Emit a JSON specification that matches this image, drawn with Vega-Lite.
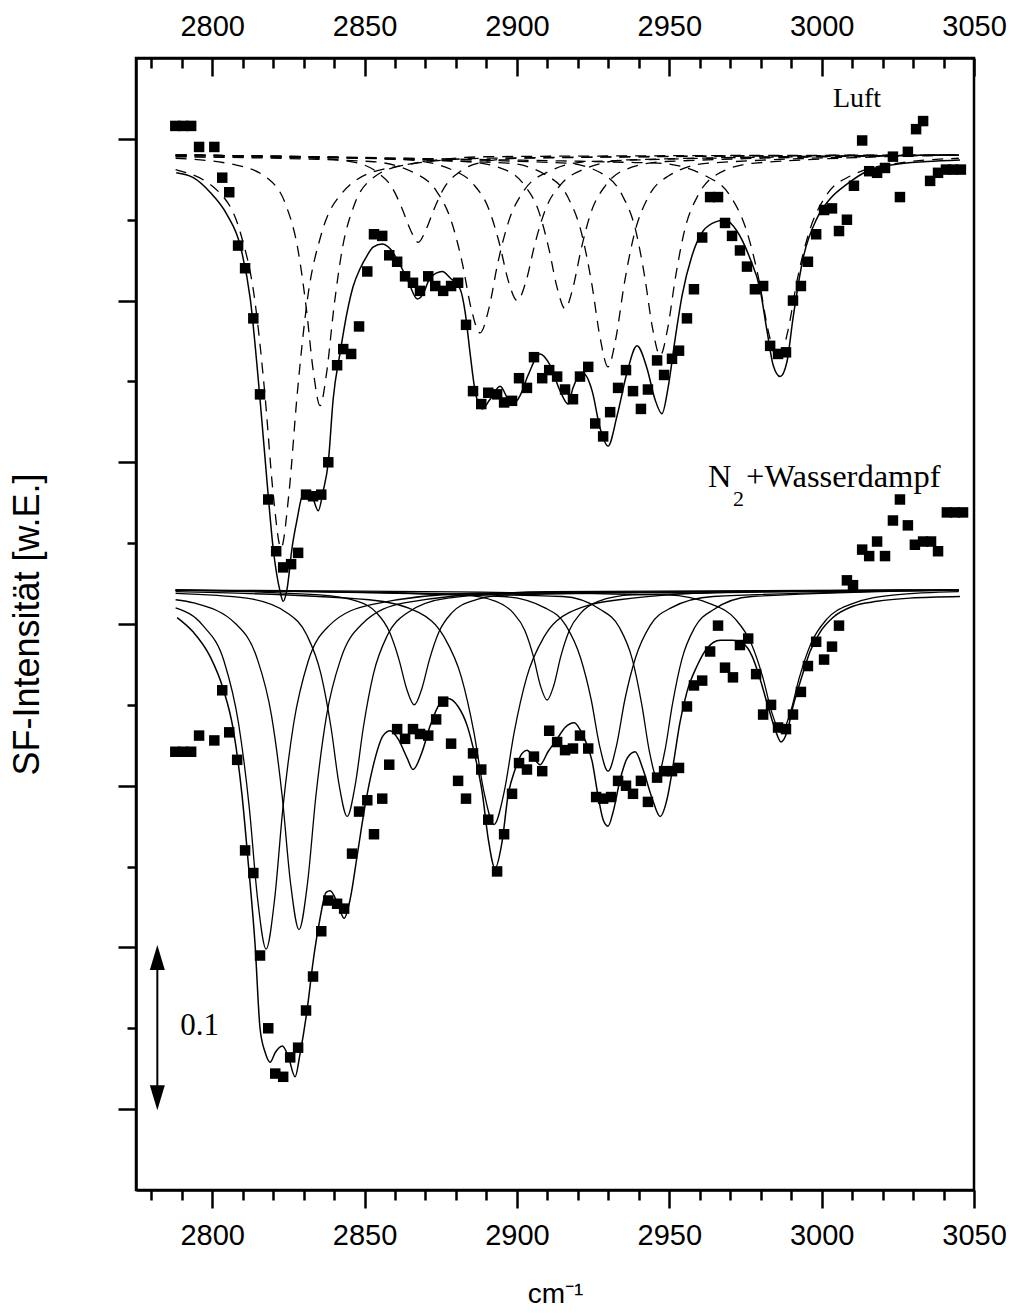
{
  "$schema": "https://vega.github.io/schema/vega-lite/v6.json",
  "width": 838,
  "height": 1132,
  "autosize": {"type": "none"},
  "padding": {"left": 136, "top": 58, "right": 36, "bottom": 123},
  "background": "white",
  "config": {
    "view": {"stroke": "black", "strokeWidth": 2.5},
    "axis": {"labelColor": "black", "tickColor": "black", "domainColor": "black", "titleColor": "black", "grid": false}
  },
  "datasets": {
    "notes": [
      {"label": "Luft", "x": 3003.7, "y": 0.620},
      {"label": "N", "x": 2962.7, "y": 0.385},
      {"label": "2", "x": 2970.9, "y": 0.373},
      {"label": "+Wasserdampf", "x": 2975.2, "y": 0.385},
      {"label": "0.1", "x": 2789.5, "y": 0.0458}
    ],
    "scalebar": [{"x": 2782.0, "y": 0.0938, "y2": 0.0071}],
    "pts": [
      {"set":"Luft","x":2787.9,"y":0.608},{"set":"Luft","x":2790.5,"y":0.608},{"set":"Luft","x":2793.1,"y":0.608},{"set":"Luft","x":2795.7,"y":0.595},{"set":"Luft","x":2800.7,"y":0.595},{"set":"Luft","x":2803.3,"y":0.576},{"set":"Luft","x":2805.6,"y":0.567},{"set":"Luft","x":2808.5,"y":0.534},{"set":"Luft","x":2810.8,"y":0.520},{"set":"Luft","x":2813.5,"y":0.489},{"set":"Luft","x":2815.7,"y":0.442},{"set":"Luft","x":2818.4,"y":0.377},{"set":"Luft","x":2821.0,"y":0.345},{"set":"Luft","x":2823.3,"y":0.335},{"set":"Luft","x":2825.9,"y":0.337},{"set":"Luft","x":2828.2,"y":0.344},{"set":"Luft","x":2830.8,"y":0.380},{"set":"Luft","x":2833.1,"y":0.379},{"set":"Luft","x":2835.8,"y":0.380},{"set":"Luft","x":2838.1,"y":0.400},{"set":"Luft","x":2841.0,"y":0.460},{"set":"Luft","x":2843.0,"y":0.470},{"set":"Luft","x":2845.6,"y":0.467},{"set":"Luft","x":2848.2,"y":0.484},{"set":"Luft","x":2850.9,"y":0.518},{"set":"Luft","x":2853.1,"y":0.541},{"set":"Luft","x":2855.8,"y":0.540},{"set":"Luft","x":2858.1,"y":0.528},{"set":"Luft","x":2860.7,"y":0.524},{"set":"Luft","x":2863.3,"y":0.515},{"set":"Luft","x":2865.9,"y":0.511},{"set":"Luft","x":2868.2,"y":0.506},{"set":"Luft","x":2870.9,"y":0.515},{"set":"Luft","x":2873.2,"y":0.509},{"set":"Luft","x":2875.8,"y":0.506},{"set":"Luft","x":2878.4,"y":0.509},{"set":"Luft","x":2880.7,"y":0.511},{"set":"Luft","x":2883.3,"y":0.485},{"set":"Luft","x":2885.6,"y":0.444},{"set":"Luft","x":2888.3,"y":0.436},{"set":"Luft","x":2890.6,"y":0.443},{"set":"Luft","x":2893.5,"y":0.442},{"set":"Luft","x":2895.8,"y":0.437},{"set":"Luft","x":2898.4,"y":0.438},{"set":"Luft","x":2900.7,"y":0.452},{"set":"Luft","x":2903.3,"y":0.446},{"set":"Luft","x":2905.6,"y":0.465},{"set":"Luft","x":2908.3,"y":0.452},{"set":"Luft","x":2910.6,"y":0.457},{"set":"Luft","x":2913.2,"y":0.453},{"set":"Luft","x":2915.8,"y":0.445},{"set":"Luft","x":2918.4,"y":0.439},{"set":"Luft","x":2920.7,"y":0.453},{"set":"Luft","x":2923.4,"y":0.459},{"set":"Luft","x":2925.7,"y":0.424},{"set":"Luft","x":2928.3,"y":0.416},{"set":"Luft","x":2930.6,"y":0.431},{"set":"Luft","x":2933.2,"y":0.446},{"set":"Luft","x":2935.8,"y":0.457},{"set":"Luft","x":2938.1,"y":0.444},{"set":"Luft","x":2940.7,"y":0.433},{"set":"Luft","x":2943.0,"y":0.445},{"set":"Luft","x":2946.0,"y":0.463},{"set":"Luft","x":2948.3,"y":0.454},{"set":"Luft","x":2950.9,"y":0.464},{"set":"Luft","x":2953.2,"y":0.469},{"set":"Luft","x":2955.8,"y":0.489},{"set":"Luft","x":2958.1,"y":0.507},{"set":"Luft","x":2960.8,"y":0.539},{"set":"Luft","x":2963.4,"y":0.564},{"set":"Luft","x":2966.0,"y":0.564},{"set":"Luft","x":2968.3,"y":0.548},{"set":"Luft","x":2970.6,"y":0.540},{"set":"Luft","x":2973.2,"y":0.531},{"set":"Luft","x":2975.5,"y":0.521},{"set":"Luft","x":2978.1,"y":0.507},{"set":"Luft","x":2980.8,"y":0.509},{"set":"Luft","x":2983.1,"y":0.472},{"set":"Luft","x":2985.7,"y":0.467},{"set":"Luft","x":2988.3,"y":0.468},{"set":"Luft","x":2990.6,"y":0.500},{"set":"Luft","x":2993.2,"y":0.509},{"set":"Luft","x":2995.5,"y":0.524},{"set":"Luft","x":2998.2,"y":0.541},{"set":"Luft","x":3000.8,"y":0.556},{"set":"Luft","x":3003.4,"y":0.557},{"set":"Luft","x":3005.7,"y":0.543},{"set":"Luft","x":3008.3,"y":0.550},{"set":"Luft","x":3010.6,"y":0.571},{"set":"Luft","x":3013.3,"y":0.599},{"set":"Luft","x":3015.6,"y":0.580},{"set":"Luft","x":3018.2,"y":0.579},{"set":"Luft","x":3020.8,"y":0.582},{"set":"Luft","x":3023.4,"y":0.589},{"set":"Luft","x":3025.7,"y":0.564},{"set":"Luft","x":3028.3,"y":0.592},{"set":"Luft","x":3031.0,"y":0.606},{"set":"Luft","x":3033.3,"y":0.611},{"set":"Luft","x":3035.6,"y":0.574},{"set":"Luft","x":3038.2,"y":0.579},{"set":"Luft","x":3040.8,"y":0.581},{"set":"Luft","x":3043.1,"y":0.581},{"set":"Luft","x":3045.7,"y":0.581},
      {"set":"N2","x":2787.9,"y":0.221},{"set":"N2","x":2790.5,"y":0.221},{"set":"N2","x":2793.1,"y":0.221},{"set":"N2","x":2795.7,"y":0.231},{"set":"N2","x":2800.7,"y":0.228},{"set":"N2","x":2803.3,"y":0.259},{"set":"N2","x":2805.6,"y":0.233},{"set":"N2","x":2808.2,"y":0.216},{"set":"N2","x":2810.8,"y":0.160},{"set":"N2","x":2813.5,"y":0.146},{"set":"N2","x":2815.7,"y":0.095},{"set":"N2","x":2818.4,"y":0.050},{"set":"N2","x":2820.7,"y":0.022},{"set":"N2","x":2823.3,"y":0.020},{"set":"N2","x":2825.6,"y":0.032},{"set":"N2","x":2828.2,"y":0.038},{"set":"N2","x":2830.8,"y":0.061},{"set":"N2","x":2833.1,"y":0.082},{"set":"N2","x":2835.8,"y":0.110},{"set":"N2","x":2838.1,"y":0.129},{"set":"N2","x":2841.0,"y":0.127},{"set":"N2","x":2843.3,"y":0.124},{"set":"N2","x":2845.9,"y":0.158},{"set":"N2","x":2848.2,"y":0.184},{"set":"N2","x":2850.9,"y":0.191},{"set":"N2","x":2853.1,"y":0.170},{"set":"N2","x":2855.8,"y":0.192},{"set":"N2","x":2858.1,"y":0.213},{"set":"N2","x":2860.7,"y":0.235},{"set":"N2","x":2863.3,"y":0.229},{"set":"N2","x":2865.9,"y":0.235},{"set":"N2","x":2868.2,"y":0.232},{"set":"N2","x":2870.9,"y":0.231},{"set":"N2","x":2873.5,"y":0.241},{"set":"N2","x":2875.8,"y":0.252},{"set":"N2","x":2878.4,"y":0.226},{"set":"N2","x":2880.7,"y":0.203},{"set":"N2","x":2883.3,"y":0.192},{"set":"N2","x":2885.6,"y":0.220},{"set":"N2","x":2888.3,"y":0.210},{"set":"N2","x":2890.6,"y":0.179},{"set":"N2","x":2893.5,"y":0.147},{"set":"N2","x":2895.8,"y":0.170},{"set":"N2","x":2898.4,"y":0.195},{"set":"N2","x":2900.7,"y":0.214},{"set":"N2","x":2903.3,"y":0.210},{"set":"N2","x":2905.6,"y":0.218},{"set":"N2","x":2908.3,"y":0.209},{"set":"N2","x":2910.6,"y":0.234},{"set":"N2","x":2913.2,"y":0.227},{"set":"N2","x":2915.8,"y":0.222},{"set":"N2","x":2918.4,"y":0.223},{"set":"N2","x":2920.7,"y":0.231},{"set":"N2","x":2923.4,"y":0.223},{"set":"N2","x":2926.0,"y":0.193},{"set":"N2","x":2928.3,"y":0.192},{"set":"N2","x":2930.9,"y":0.193},{"set":"N2","x":2933.2,"y":0.203},{"set":"N2","x":2935.8,"y":0.200},{"set":"N2","x":2938.1,"y":0.195},{"set":"N2","x":2940.7,"y":0.203},{"set":"N2","x":2943.0,"y":0.190},{"set":"N2","x":2946.0,"y":0.205},{"set":"N2","x":2948.3,"y":0.209},{"set":"N2","x":2950.9,"y":0.209},{"set":"N2","x":2953.2,"y":0.211},{"set":"N2","x":2955.8,"y":0.249},{"set":"N2","x":2958.1,"y":0.262},{"set":"N2","x":2960.8,"y":0.265},{"set":"N2","x":2963.4,"y":0.283},{"set":"N2","x":2966.0,"y":0.299},{"set":"N2","x":2968.3,"y":0.273},{"set":"N2","x":2970.9,"y":0.267},{"set":"N2","x":2973.2,"y":0.287},{"set":"N2","x":2975.9,"y":0.291},{"set":"N2","x":2978.5,"y":0.269},{"set":"N2","x":2980.8,"y":0.244},{"set":"N2","x":2983.4,"y":0.250},{"set":"N2","x":2985.7,"y":0.236},{"set":"N2","x":2988.3,"y":0.235},{"set":"N2","x":2990.6,"y":0.244},{"set":"N2","x":2993.2,"y":0.258},{"set":"N2","x":2995.5,"y":0.274},{"set":"N2","x":2998.2,"y":0.289},{"set":"N2","x":3000.8,"y":0.278},{"set":"N2","x":3003.4,"y":0.286},{"set":"N2","x":3005.7,"y":0.299},{"set":"N2","x":3008.3,"y":0.327},{"set":"N2","x":3010.3,"y":0.324},{"set":"N2","x":3013.3,"y":0.346},{"set":"N2","x":3015.6,"y":0.342},{"set":"N2","x":3018.2,"y":0.351},{"set":"N2","x":3020.8,"y":0.342},{"set":"N2","x":3023.4,"y":0.364},{"set":"N2","x":3025.7,"y":0.377},{"set":"N2","x":3028.3,"y":0.361},{"set":"N2","x":3030.6,"y":0.349},{"set":"N2","x":3033.3,"y":0.351},{"set":"N2","x":3035.9,"y":0.351},{"set":"N2","x":3038.2,"y":0.345},{"set":"N2","x":3041.1,"y":0.369},{"set":"N2","x":3043.8,"y":0.369},{"set":"N2","x":3046.4,"y":0.369}
    ],
    "fit": [
      {"set":"Luft","x":2788.2,"y":0.579},{"set":"Luft","x":2793.8,"y":0.576},{"set":"Luft","x":2799.3,"y":0.567},{"set":"Luft","x":2804.9,"y":0.553},{"set":"Luft","x":2809.2,"y":0.534},{"set":"Luft","x":2812.5,"y":0.501},{"set":"Luft","x":2815.7,"y":0.439},{"set":"Luft","x":2818.0,"y":0.388},{"set":"Luft","x":2820.0,"y":0.347},{"set":"Luft","x":2822.3,"y":0.320},{"set":"Luft","x":2823.3,"y":0.314},{"set":"Luft","x":2824.6,"y":0.322},{"set":"Luft","x":2826.2,"y":0.347},{"set":"Luft","x":2827.9,"y":0.365},{"set":"Luft","x":2829.5,"y":0.379},{"set":"Luft","x":2831.2,"y":0.382},{"set":"Luft","x":2832.8,"y":0.379},{"set":"Luft","x":2834.8,"y":0.370},{"set":"Luft","x":2836.4,"y":0.382},{"set":"Luft","x":2838.1,"y":0.400},{"set":"Luft","x":2839.7,"y":0.439},{"set":"Luft","x":2842.0,"y":0.468},{"set":"Luft","x":2844.3,"y":0.493},{"set":"Luft","x":2846.3,"y":0.509},{"set":"Luft","x":2848.6,"y":0.520},{"set":"Luft","x":2850.9,"y":0.528},{"set":"Luft","x":2852.8,"y":0.533},{"set":"Luft","x":2855.8,"y":0.535},{"set":"Luft","x":2858.4,"y":0.532},{"set":"Luft","x":2861.7,"y":0.522},{"set":"Luft","x":2864.3,"y":0.512},{"set":"Luft","x":2867.3,"y":0.501},{"set":"Luft","x":2869.2,"y":0.504},{"set":"Luft","x":2871.5,"y":0.514},{"set":"Luft","x":2875.5,"y":0.518},{"set":"Luft","x":2878.1,"y":0.514},{"set":"Luft","x":2881.4,"y":0.507},{"set":"Luft","x":2883.0,"y":0.493},{"set":"Luft","x":2884.6,"y":0.468},{"set":"Luft","x":2886.3,"y":0.444},{"set":"Luft","x":2888.6,"y":0.433},{"set":"Luft","x":2891.2,"y":0.439},{"set":"Luft","x":2894.5,"y":0.447},{"set":"Luft","x":2897.1,"y":0.439},{"set":"Luft","x":2898.8,"y":0.436},{"set":"Luft","x":2901.0,"y":0.441},{"set":"Luft","x":2903.7,"y":0.454},{"set":"Luft","x":2907.6,"y":0.467},{"set":"Luft","x":2910.9,"y":0.460},{"set":"Luft","x":2914.2,"y":0.444},{"set":"Luft","x":2916.8,"y":0.436},{"set":"Luft","x":2918.4,"y":0.446},{"set":"Luft","x":2921.7,"y":0.455},{"set":"Luft","x":2924.7,"y":0.444},{"set":"Luft","x":2927.3,"y":0.421},{"set":"Luft","x":2929.9,"y":0.410},{"set":"Luft","x":2932.9,"y":0.429},{"set":"Luft","x":2936.2,"y":0.456},{"set":"Luft","x":2939.4,"y":0.472},{"set":"Luft","x":2942.7,"y":0.458},{"set":"Luft","x":2945.3,"y":0.439},{"set":"Luft","x":2947.6,"y":0.430},{"set":"Luft","x":2949.6,"y":0.446},{"set":"Luft","x":2951.9,"y":0.476},{"set":"Luft","x":2954.2,"y":0.503},{"set":"Luft","x":2957.5,"y":0.528},{"set":"Luft","x":2961.1,"y":0.543},{"set":"Luft","x":2965.7,"y":0.549},{"set":"Luft","x":2968.3,"y":0.550},{"set":"Luft","x":2972.2,"y":0.543},{"set":"Luft","x":2976.5,"y":0.526},{"set":"Luft","x":2979.8,"y":0.507},{"set":"Luft","x":2982.1,"y":0.481},{"set":"Luft","x":2984.1,"y":0.460},{"set":"Luft","x":2986.4,"y":0.453},{"set":"Luft","x":2988.6,"y":0.462},{"set":"Luft","x":2990.6,"y":0.489},{"set":"Luft","x":2993.9,"y":0.526},{"set":"Luft","x":2998.5,"y":0.551},{"set":"Luft","x":3002.8,"y":0.563},{"set":"Luft","x":3008.3,"y":0.572},{"set":"Luft","x":3014.9,"y":0.580},{"set":"Luft","x":3023.4,"y":0.584},{"set":"Luft","x":3034.6,"y":0.586},{"set":"Luft","x":3045.4,"y":0.587},
      {"set":"N2","x":2788.5,"y":0.304},{"set":"N2","x":2793.8,"y":0.295},{"set":"N2","x":2799.3,"y":0.280},{"set":"N2","x":2803.6,"y":0.260},{"set":"N2","x":2806.9,"y":0.235},{"set":"N2","x":2809.8,"y":0.194},{"set":"N2","x":2811.8,"y":0.153},{"set":"N2","x":2814.1,"y":0.101},{"set":"N2","x":2815.7,"y":0.050},{"set":"N2","x":2817.4,"y":0.035},{"set":"N2","x":2819.0,"y":0.029},{"set":"N2","x":2820.7,"y":0.035},{"set":"N2","x":2823.0,"y":0.039},{"set":"N2","x":2824.9,"y":0.033},{"set":"N2","x":2827.2,"y":0.020},{"set":"N2","x":2828.9,"y":0.035},{"set":"N2","x":2831.2,"y":0.062},{"set":"N2","x":2833.1,"y":0.091},{"set":"N2","x":2835.4,"y":0.118},{"set":"N2","x":2837.4,"y":0.134},{"set":"N2","x":2838.7,"y":0.135},{"set":"N2","x":2841.0,"y":0.128},{"set":"N2","x":2843.3,"y":0.118},{"set":"N2","x":2845.3,"y":0.130},{"set":"N2","x":2847.6,"y":0.157},{"set":"N2","x":2850.2,"y":0.188},{"set":"N2","x":2852.8,"y":0.212},{"set":"N2","x":2856.1,"y":0.231},{"set":"N2","x":2858.4,"y":0.234},{"set":"N2","x":2861.0,"y":0.229},{"set":"N2","x":2864.0,"y":0.217},{"set":"N2","x":2865.9,"y":0.210},{"set":"N2","x":2868.9,"y":0.221},{"set":"N2","x":2871.5,"y":0.237},{"set":"N2","x":2874.8,"y":0.251},{"set":"N2","x":2877.4,"y":0.254},{"set":"N2","x":2880.7,"y":0.249},{"set":"N2","x":2883.7,"y":0.237},{"set":"N2","x":2886.3,"y":0.218},{"set":"N2","x":2888.6,"y":0.196},{"set":"N2","x":2890.6,"y":0.167},{"set":"N2","x":2892.8,"y":0.149},{"set":"N2","x":2895.1,"y":0.165},{"set":"N2","x":2897.1,"y":0.194},{"set":"N2","x":2899.4,"y":0.210},{"set":"N2","x":2901.7,"y":0.220},{"set":"N2","x":2903.3,"y":0.222},{"set":"N2","x":2905.3,"y":0.218},{"set":"N2","x":2907.6,"y":0.213},{"set":"N2","x":2910.2,"y":0.221},{"set":"N2","x":2913.2,"y":0.229},{"set":"N2","x":2915.8,"y":0.236},{"set":"N2","x":2918.8,"y":0.239},{"set":"N2","x":2921.7,"y":0.231},{"set":"N2","x":2924.7,"y":0.215},{"set":"N2","x":2926.6,"y":0.194},{"set":"N2","x":2928.3,"y":0.179},{"set":"N2","x":2929.9,"y":0.175},{"set":"N2","x":2931.6,"y":0.184},{"set":"N2","x":2933.9,"y":0.204},{"set":"N2","x":2936.2,"y":0.217},{"set":"N2","x":2938.8,"y":0.221},{"set":"N2","x":2941.4,"y":0.210},{"set":"N2","x":2944.4,"y":0.192},{"set":"N2","x":2947.0,"y":0.181},{"set":"N2","x":2949.3,"y":0.192},{"set":"N2","x":2951.2,"y":0.212},{"set":"N2","x":2953.5,"y":0.239},{"set":"N2","x":2955.8,"y":0.258},{"set":"N2","x":2959.1,"y":0.274},{"set":"N2","x":2962.4,"y":0.285},{"set":"N2","x":2966.7,"y":0.290},{"set":"N2","x":2970.9,"y":0.290},{"set":"N2","x":2974.2,"y":0.288},{"set":"N2","x":2977.2,"y":0.280},{"set":"N2","x":2979.8,"y":0.266},{"set":"N2","x":2982.4,"y":0.249},{"set":"N2","x":2984.7,"y":0.235},{"set":"N2","x":2986.7,"y":0.227},{"set":"N2","x":2988.6,"y":0.233},{"set":"N2","x":2990.6,"y":0.249},{"set":"N2","x":2993.6,"y":0.268},{"set":"N2","x":2996.2,"y":0.283},{"set":"N2","x":2999.5,"y":0.295},{"set":"N2","x":3003.7,"y":0.304},{"set":"N2","x":3010.3,"y":0.311},{"set":"N2","x":3018.2,"y":0.314},{"set":"N2","x":3029.0,"y":0.316},{"set":"N2","x":3045.4,"y":0.317}
    ],
    "comp": [
      {"set":"Luft","comp":1,"x":2788,"y":0.581},{"set":"Luft","comp":1,"x":2802.8,"y":0.566},{"set":"Luft","comp":1,"x":2809.4,"y":0.541},{"set":"Luft","comp":1,"x":2814.0,"y":0.500},{"set":"Luft","comp":1,"x":2817.3,"y":0.442},{"set":"Luft","comp":1,"x":2820.0,"y":0.381},{"set":"Luft","comp":1,"x":2822.6,"y":0.347},{"set":"Luft","comp":1,"x":2825.2,"y":0.381},{"set":"Luft","comp":1,"x":2827.9,"y":0.442},{"set":"Luft","comp":1,"x":2831.2,"y":0.500},{"set":"Luft","comp":1,"x":2835.8,"y":0.541},{"set":"Luft","comp":1,"x":2842.4,"y":0.566},{"set":"Luft","comp":1,"x":2855.6,"y":0.581},{"set":"Luft","comp":1,"x":2888.6,"y":0.588},{"set":"Luft","comp":1,"x":3045,"y":0.590},
      {"set":"Luft","comp":2,"x":2788,"y":0.588},{"set":"Luft","comp":2,"x":2807.4,"y":0.584},{"set":"Luft","comp":2,"x":2818.6,"y":0.575},{"set":"Luft","comp":2,"x":2824.2,"y":0.559},{"set":"Luft","comp":2,"x":2828.1,"y":0.532},{"set":"Luft","comp":2,"x":2830.9,"y":0.495},{"set":"Luft","comp":2,"x":2833.2,"y":0.456},{"set":"Luft","comp":2,"x":2835.4,"y":0.435},{"set":"Luft","comp":2,"x":2837.6,"y":0.456},{"set":"Luft","comp":2,"x":2839.9,"y":0.495},{"set":"Luft","comp":2,"x":2842.7,"y":0.532},{"set":"Luft","comp":2,"x":2846.6,"y":0.559},{"set":"Luft","comp":2,"x":2852.2,"y":0.575},{"set":"Luft","comp":2,"x":2863.4,"y":0.584},{"set":"Luft","comp":2,"x":2891.4,"y":0.589},{"set":"Luft","comp":2,"x":3045,"y":0.590},
      {"set":"Luft","comp":3,"x":2788,"y":0.590},{"set":"Luft","comp":3,"x":2834.6,"y":0.588},{"set":"Luft","comp":3,"x":2847.8,"y":0.585},{"set":"Luft","comp":3,"x":2854.4,"y":0.579},{"set":"Luft","comp":3,"x":2859.0,"y":0.570},{"set":"Luft","comp":3,"x":2862.3,"y":0.557},{"set":"Luft","comp":3,"x":2865.0,"y":0.544},{"set":"Luft","comp":3,"x":2867.6,"y":0.536},{"set":"Luft","comp":3,"x":2870.2,"y":0.544},{"set":"Luft","comp":3,"x":2872.9,"y":0.557},{"set":"Luft","comp":3,"x":2876.2,"y":0.570},{"set":"Luft","comp":3,"x":2880.8,"y":0.579},{"set":"Luft","comp":3,"x":2887.4,"y":0.585},{"set":"Luft","comp":3,"x":2900.6,"y":0.588},{"set":"Luft","comp":3,"x":3045,"y":0.590},
      {"set":"Luft","comp":4,"x":2788,"y":0.589},{"set":"Luft","comp":4,"x":2851.9,"y":0.586},{"set":"Luft","comp":4,"x":2866.3,"y":0.579},{"set":"Luft","comp":4,"x":2873.5,"y":0.568},{"set":"Luft","comp":4,"x":2878.5,"y":0.549},{"set":"Luft","comp":4,"x":2882.1,"y":0.523},{"set":"Luft","comp":4,"x":2885.0,"y":0.495},{"set":"Luft","comp":4,"x":2887.9,"y":0.480},{"set":"Luft","comp":4,"x":2890.8,"y":0.495},{"set":"Luft","comp":4,"x":2893.7,"y":0.523},{"set":"Luft","comp":4,"x":2897.3,"y":0.549},{"set":"Luft","comp":4,"x":2902.3,"y":0.568},{"set":"Luft","comp":4,"x":2909.5,"y":0.579},{"set":"Luft","comp":4,"x":2923.9,"y":0.586},{"set":"Luft","comp":4,"x":3045,"y":0.590},
      {"set":"Luft","comp":5,"x":2788,"y":0.590},{"set":"Luft","comp":5,"x":2864.1,"y":0.587},{"set":"Luft","comp":5,"x":2878.5,"y":0.581},{"set":"Luft","comp":5,"x":2885.7,"y":0.572},{"set":"Luft","comp":5,"x":2890.7,"y":0.557},{"set":"Luft","comp":5,"x":2894.3,"y":0.535},{"set":"Luft","comp":5,"x":2897.2,"y":0.512},{"set":"Luft","comp":5,"x":2900.1,"y":0.500},{"set":"Luft","comp":5,"x":2903.0,"y":0.512},{"set":"Luft","comp":5,"x":2905.9,"y":0.535},{"set":"Luft","comp":5,"x":2909.5,"y":0.557},{"set":"Luft","comp":5,"x":2914.5,"y":0.572},{"set":"Luft","comp":5,"x":2921.7,"y":0.581},{"set":"Luft","comp":5,"x":2936.1,"y":0.587},{"set":"Luft","comp":5,"x":3045,"y":0.590},
      {"set":"Luft","comp":6,"x":2788,"y":0.590},{"set":"Luft","comp":6,"x":2882.8,"y":0.586},{"set":"Luft","comp":6,"x":2896.0,"y":0.581},{"set":"Luft","comp":6,"x":2902.6,"y":0.571},{"set":"Luft","comp":6,"x":2907.2,"y":0.555},{"set":"Luft","comp":6,"x":2910.5,"y":0.532},{"set":"Luft","comp":6,"x":2913.2,"y":0.508},{"set":"Luft","comp":6,"x":2915.8,"y":0.495},{"set":"Luft","comp":6,"x":2918.4,"y":0.508},{"set":"Luft","comp":6,"x":2921.1,"y":0.532},{"set":"Luft","comp":6,"x":2924.4,"y":0.555},{"set":"Luft","comp":6,"x":2929.0,"y":0.571},{"set":"Luft","comp":6,"x":2935.6,"y":0.581},{"set":"Luft","comp":6,"x":2948.8,"y":0.586},{"set":"Luft","comp":6,"x":3045,"y":0.590},
      {"set":"Luft","comp":7,"x":2788,"y":0.590},{"set":"Luft","comp":7,"x":2896.9,"y":0.585},{"set":"Luft","comp":7,"x":2910.1,"y":0.577},{"set":"Luft","comp":7,"x":2916.7,"y":0.564},{"set":"Luft","comp":7,"x":2921.3,"y":0.541},{"set":"Luft","comp":7,"x":2924.6,"y":0.510},{"set":"Luft","comp":7,"x":2927.3,"y":0.477},{"set":"Luft","comp":7,"x":2929.9,"y":0.459},{"set":"Luft","comp":7,"x":2932.5,"y":0.477},{"set":"Luft","comp":7,"x":2935.2,"y":0.510},{"set":"Luft","comp":7,"x":2938.5,"y":0.541},{"set":"Luft","comp":7,"x":2943.1,"y":0.564},{"set":"Luft","comp":7,"x":2949.7,"y":0.577},{"set":"Luft","comp":7,"x":2962.9,"y":0.585},{"set":"Luft","comp":7,"x":3045,"y":0.590},
      {"set":"Luft","comp":8,"x":2788,"y":0.590},{"set":"Luft","comp":8,"x":2916.0,"y":0.585},{"set":"Luft","comp":8,"x":2928.4,"y":0.578},{"set":"Luft","comp":8,"x":2934.6,"y":0.565},{"set":"Luft","comp":8,"x":2938.9,"y":0.544},{"set":"Luft","comp":8,"x":2942.0,"y":0.514},{"set":"Luft","comp":8,"x":2944.5,"y":0.483},{"set":"Luft","comp":8,"x":2947.0,"y":0.466},{"set":"Luft","comp":8,"x":2949.5,"y":0.483},{"set":"Luft","comp":8,"x":2952.0,"y":0.514},{"set":"Luft","comp":8,"x":2955.1,"y":0.544},{"set":"Luft","comp":8,"x":2959.4,"y":0.565},{"set":"Luft","comp":8,"x":2965.6,"y":0.578},{"set":"Luft","comp":8,"x":2978.0,"y":0.585},{"set":"Luft","comp":8,"x":3045,"y":0.590},
      {"set":"Luft","comp":9,"x":2788,"y":0.589},{"set":"Luft","comp":9,"x":2946.2,"y":0.585},{"set":"Luft","comp":9,"x":2962.0,"y":0.577},{"set":"Luft","comp":9,"x":2969.9,"y":0.565},{"set":"Luft","comp":9,"x":2975.4,"y":0.543},{"set":"Luft","comp":9,"x":2979.4,"y":0.513},{"set":"Luft","comp":9,"x":2982.5,"y":0.481},{"set":"Luft","comp":9,"x":2985.7,"y":0.463},{"set":"Luft","comp":9,"x":2988.9,"y":0.481},{"set":"Luft","comp":9,"x":2992.0,"y":0.513},{"set":"Luft","comp":9,"x":2996.0,"y":0.543},{"set":"Luft","comp":9,"x":3001.5,"y":0.565},{"set":"Luft","comp":9,"x":3009.4,"y":0.577},{"set":"Luft","comp":9,"x":3025.2,"y":0.585},{"set":"Luft","comp":9,"x":3045,"y":0.588},
      {"set":"N2","comp":1,"x":2788,"y":0.310},{"set":"N2","comp":1,"x":2797.0,"y":0.299},{"set":"N2","comp":1,"x":2803.9,"y":0.277},{"set":"N2","comp":1,"x":2808.7,"y":0.238},{"set":"N2","comp":1,"x":2812.2,"y":0.186},{"set":"N2","comp":1,"x":2814.9,"y":0.130},{"set":"N2","comp":1,"x":2817.7,"y":0.099},{"set":"N2","comp":1,"x":2820.5,"y":0.130},{"set":"N2","comp":1,"x":2823.2,"y":0.186},{"set":"N2","comp":1,"x":2826.7,"y":0.238},{"set":"N2","comp":1,"x":2831.5,"y":0.277},{"set":"N2","comp":1,"x":2838.4,"y":0.299},{"set":"N2","comp":1,"x":2852.2,"y":0.312},{"set":"N2","comp":1,"x":2886.7,"y":0.319},{"set":"N2","comp":1,"x":3045,"y":0.321},
      {"set":"N2","comp":2,"x":2788,"y":0.315},{"set":"N2","comp":2,"x":2794.0,"y":0.313},{"set":"N2","comp":2,"x":2807.8,"y":0.300},{"set":"N2","comp":2,"x":2814.7,"y":0.279},{"set":"N2","comp":2,"x":2819.5,"y":0.243},{"set":"N2","comp":2,"x":2823.0,"y":0.193},{"set":"N2","comp":2,"x":2825.7,"y":0.140},{"set":"N2","comp":2,"x":2828.5,"y":0.111},{"set":"N2","comp":2,"x":2831.3,"y":0.140},{"set":"N2","comp":2,"x":2834.0,"y":0.193},{"set":"N2","comp":2,"x":2837.5,"y":0.243},{"set":"N2","comp":2,"x":2842.3,"y":0.279},{"set":"N2","comp":2,"x":2849.2,"y":0.300},{"set":"N2","comp":2,"x":2863.0,"y":0.313},{"set":"N2","comp":2,"x":2897.5,"y":0.319},{"set":"N2","comp":2,"x":3045,"y":0.321},
      {"set":"N2","comp":3,"x":2788,"y":0.319},{"set":"N2","comp":3,"x":2811.3,"y":0.316},{"set":"N2","comp":3,"x":2824.5,"y":0.307},{"set":"N2","comp":3,"x":2831.1,"y":0.293},{"set":"N2","comp":3,"x":2835.7,"y":0.269},{"set":"N2","comp":3,"x":2839.0,"y":0.236},{"set":"N2","comp":3,"x":2841.7,"y":0.200},{"set":"N2","comp":3,"x":2844.3,"y":0.181},{"set":"N2","comp":3,"x":2846.9,"y":0.200},{"set":"N2","comp":3,"x":2849.6,"y":0.236},{"set":"N2","comp":3,"x":2852.9,"y":0.269},{"set":"N2","comp":3,"x":2857.5,"y":0.293},{"set":"N2","comp":3,"x":2864.1,"y":0.307},{"set":"N2","comp":3,"x":2877.3,"y":0.316},{"set":"N2","comp":3,"x":2910.3,"y":0.320},{"set":"N2","comp":3,"x":3045,"y":0.321},
      {"set":"N2","comp":4,"x":2788,"y":0.321},{"set":"N2","comp":4,"x":2835.3,"y":0.318},{"set":"N2","comp":4,"x":2847.7,"y":0.314},{"set":"N2","comp":4,"x":2853.9,"y":0.307},{"set":"N2","comp":4,"x":2858.2,"y":0.295},{"set":"N2","comp":4,"x":2861.3,"y":0.278},{"set":"N2","comp":4,"x":2863.8,"y":0.260},{"set":"N2","comp":4,"x":2866.3,"y":0.250},{"set":"N2","comp":4,"x":2868.8,"y":0.260},{"set":"N2","comp":4,"x":2871.3,"y":0.278},{"set":"N2","comp":4,"x":2874.4,"y":0.295},{"set":"N2","comp":4,"x":2878.7,"y":0.307},{"set":"N2","comp":4,"x":2884.9,"y":0.314},{"set":"N2","comp":4,"x":2897.3,"y":0.318},{"set":"N2","comp":4,"x":3045,"y":0.321},
      {"set":"N2","comp":5,"x":2788,"y":0.320},{"set":"N2","comp":5,"x":2851.5,"y":0.315},{"set":"N2","comp":5,"x":2867.9,"y":0.307},{"set":"N2","comp":5,"x":2876.1,"y":0.292},{"set":"N2","comp":5,"x":2881.8,"y":0.267},{"set":"N2","comp":5,"x":2885.9,"y":0.233},{"set":"N2","comp":5,"x":2889.2,"y":0.196},{"set":"N2","comp":5,"x":2892.5,"y":0.176},{"set":"N2","comp":5,"x":2895.8,"y":0.196},{"set":"N2","comp":5,"x":2899.1,"y":0.233},{"set":"N2","comp":5,"x":2903.2,"y":0.267},{"set":"N2","comp":5,"x":2908.9,"y":0.292},{"set":"N2","comp":5,"x":2917.1,"y":0.307},{"set":"N2","comp":5,"x":2933.5,"y":0.315},{"set":"N2","comp":5,"x":2974.5,"y":0.320},{"set":"N2","comp":5,"x":3045,"y":0.321},
      {"set":"N2","comp":6,"x":2788,"y":0.321},{"set":"N2","comp":6,"x":2881.9,"y":0.318},{"set":"N2","comp":6,"x":2893.1,"y":0.314},{"set":"N2","comp":6,"x":2898.7,"y":0.307},{"set":"N2","comp":6,"x":2902.6,"y":0.296},{"set":"N2","comp":6,"x":2905.4,"y":0.280},{"set":"N2","comp":6,"x":2907.7,"y":0.262},{"set":"N2","comp":6,"x":2909.9,"y":0.253},{"set":"N2","comp":6,"x":2912.1,"y":0.262},{"set":"N2","comp":6,"x":2914.4,"y":0.280},{"set":"N2","comp":6,"x":2917.2,"y":0.296},{"set":"N2","comp":6,"x":2921.1,"y":0.307},{"set":"N2","comp":6,"x":2926.7,"y":0.314},{"set":"N2","comp":6,"x":2937.9,"y":0.318},{"set":"N2","comp":6,"x":3045,"y":0.321},
      {"set":"N2","comp":7,"x":2788,"y":0.321},{"set":"N2","comp":7,"x":2895.4,"y":0.317},{"set":"N2","comp":7,"x":2909.2,"y":0.310},{"set":"N2","comp":7,"x":2916.1,"y":0.299},{"set":"N2","comp":7,"x":2920.9,"y":0.279},{"set":"N2","comp":7,"x":2924.4,"y":0.253},{"set":"N2","comp":7,"x":2927.1,"y":0.225},{"set":"N2","comp":7,"x":2929.9,"y":0.209},{"set":"N2","comp":7,"x":2932.7,"y":0.225},{"set":"N2","comp":7,"x":2935.4,"y":0.253},{"set":"N2","comp":7,"x":2938.9,"y":0.279},{"set":"N2","comp":7,"x":2943.7,"y":0.299},{"set":"N2","comp":7,"x":2950.6,"y":0.310},{"set":"N2","comp":7,"x":2964.4,"y":0.317},{"set":"N2","comp":7,"x":3045,"y":0.321},
      {"set":"N2","comp":8,"x":2788,"y":0.321},{"set":"N2","comp":8,"x":2915.0,"y":0.317},{"set":"N2","comp":8,"x":2927.4,"y":0.309},{"set":"N2","comp":8,"x":2933.6,"y":0.298},{"set":"N2","comp":8,"x":2937.9,"y":0.278},{"set":"N2","comp":8,"x":2941.0,"y":0.250},{"set":"N2","comp":8,"x":2943.5,"y":0.221},{"set":"N2","comp":8,"x":2946.0,"y":0.205},{"set":"N2","comp":8,"x":2948.5,"y":0.221},{"set":"N2","comp":8,"x":2951.0,"y":0.250},{"set":"N2","comp":8,"x":2954.1,"y":0.278},{"set":"N2","comp":8,"x":2958.4,"y":0.298},{"set":"N2","comp":8,"x":2964.6,"y":0.309},{"set":"N2","comp":8,"x":2977.0,"y":0.317},{"set":"N2","comp":8,"x":3045,"y":0.321},
      {"set":"N2","comp":9,"x":2788,"y":0.321},{"set":"N2","comp":9,"x":2949.2,"y":0.318},{"set":"N2","comp":9,"x":2964.2,"y":0.312},{"set":"N2","comp":9,"x":2971.7,"y":0.303},{"set":"N2","comp":9,"x":2976.9,"y":0.288},{"set":"N2","comp":9,"x":2980.7,"y":0.267},{"set":"N2","comp":9,"x":2983.7,"y":0.245},{"set":"N2","comp":9,"x":2986.7,"y":0.233},{"set":"N2","comp":9,"x":2989.7,"y":0.245},{"set":"N2","comp":9,"x":2992.7,"y":0.267},{"set":"N2","comp":9,"x":2996.5,"y":0.288},{"set":"N2","comp":9,"x":3001.7,"y":0.303},{"set":"N2","comp":9,"x":3009.2,"y":0.312},{"set":"N2","comp":9,"x":3024.2,"y":0.318},{"set":"N2","comp":9,"x":3045,"y":0.320}
    ]
  },
  "resolve": {"axis": {"x": "independent", "y": "independent"}},
  "encoding": {
    "x": {"field": "x", "type": "quantitative", "scale": {"domain": [2775, 3050], "nice": false, "zero": false}, "axis": null},
    "y": {"field": "y", "type": "quantitative", "scale": {"domain": [-0.05, 0.65], "nice": false, "zero": false}, "axis": null}
  },
  "layer": [
    {
      "data": {"name": "comp"},
      "transform": [{"filter": "datum.set === 'Luft'"}],
      "mark": {"type": "line", "color": "black", "strokeWidth": 1.3, "strokeDash": [11, 8], "interpolate": "monotone"},
      "encoding": {"detail": {"field": "comp", "type": "nominal"}}
    },
    {
      "data": {"name": "comp"},
      "transform": [{"filter": "datum.set === 'N2'"}],
      "mark": {"type": "line", "color": "black", "strokeWidth": 1.3, "interpolate": "monotone"},
      "encoding": {"detail": {"field": "comp", "type": "nominal"}}
    },
    {
      "data": {"name": "fit"},
      "mark": {"type": "line", "color": "black", "strokeWidth": 1.5, "interpolate": "monotone"},
      "encoding": {
        "detail": {"field": "set", "type": "nominal"},
        "x": {"field": "x", "type": "quantitative", "scale": {"domain": [2775, 3050], "nice": false, "zero": false},
          "axis": {"orient": "top", "title": null, "values": [2780,2790,2800,2810,2820,2830,2840,2850,2860,2870,2880,2890,2900,2910,2920,2930,2940,2950,2960,2970,2980,2990,3000,3010,3020,3030,3040,3050],
            "format": "d", "labelExpr": "datum.value % 50 === 0 ? datum.label : ''",
            "tickSize": {"condition": {"test": "datum.value % 50 === 0", "value": -18}, "value": -10},
            "tickWidth": 2.5, "domainWidth": 2.5, "labelPadding": 35, "labelFont": "Liberation Sans", "labelFontSize": 29,
            "labelFlush": false, "labelOverlap": false, "labelBound": false}}
      }
    },
    {
      "data": {"name": "pts"},
      "mark": {"type": "point", "shape": "square", "filled": true, "size": 110, "color": "black", "opacity": 1},
      "encoding": {
        "x": {"field": "x", "type": "quantitative", "scale": {"domain": [2775, 3050], "nice": false, "zero": false},
          "axis": {"orient": "bottom", "title": "cm⁻¹", "values": [2780,2790,2800,2810,2820,2830,2840,2850,2860,2870,2880,2890,2900,2910,2920,2930,2940,2950,2960,2970,2980,2990,3000,3010,3020,3030,3040,3050],
            "format": "d", "labelExpr": "datum.value % 50 === 0 ? datum.label : ''",
            "tickSize": {"condition": {"test": "datum.value % 50 === 0", "value": 18}, "value": 10},
            "tickWidth": 2.5, "domainWidth": 2.5, "labelPadding": 13, "labelFont": "Liberation Sans", "labelFontSize": 29,
            "labelFlush": false, "labelOverlap": false, "labelBound": false,
            "titleFont": "Liberation Sans", "titleFontSize": 28, "titleFontWeight": "normal", "titlePadding": 30}},
        "y": {"field": "y", "type": "quantitative", "scale": {"domain": [-0.05, 0.65], "nice": false, "zero": false},
          "axis": {"orient": "left", "title": "SF-Intensität [w.E.]", "labels": false,
            "values": [0, 0.05, 0.1, 0.15, 0.2, 0.25, 0.3, 0.35, 0.4, 0.45, 0.5, 0.55, 0.6],
            "tickSize": {"condition": {"test": "round(datum.value * 100) % 10 === 0", "value": 18}, "value": 9},
            "tickWidth": 2.5, "domainWidth": 2.5,
            "titleFont": "Liberation Sans", "titleFontSize": 36, "titleFontWeight": "normal", "titlePadding": 70}}
      }
    },
    {
      "data": {"name": "notes"},
      "transform": [{"filter": "datum.label === 'N' || datum.label === '+Wasserdampf'"}],
      "mark": {"type": "text", "font": "Liberation Serif", "fontSize": 32.5, "align": "left", "baseline": "alphabetic", "color": "black"},
      "encoding": {"text": {"field": "label", "type": "nominal"}}
    },
    {
      "data": {"name": "notes"},
      "transform": [{"filter": "datum.label === 'Luft'"}],
      "mark": {"type": "text", "font": "Liberation Serif", "fontSize": 28, "align": "left", "baseline": "alphabetic", "color": "black"},
      "encoding": {"text": {"field": "label", "type": "nominal"}}
    },
    {
      "data": {"name": "notes"},
      "transform": [{"filter": "datum.label === '2'"}],
      "mark": {"type": "text", "font": "Liberation Serif", "fontSize": 22, "align": "left", "baseline": "alphabetic", "color": "black"},
      "encoding": {"text": {"field": "label", "type": "nominal"}}
    },
    {
      "data": {"name": "notes"},
      "transform": [{"filter": "datum.label === '0.1'"}],
      "mark": {"type": "text", "font": "Liberation Serif", "fontSize": 31, "align": "left", "baseline": "alphabetic", "color": "black"},
      "encoding": {"text": {"field": "label", "type": "nominal"}}
    },
    {
      "data": {"name": "scalebar"},
      "mark": {"type": "rule", "color": "black", "strokeWidth": 2},
      "encoding": {"y2": {"field": "y2"}}
    },
    {
      "data": {"name": "scalebar"},
      "mark": {"type": "point", "shape": "M0,-1L0.6,1L-0.6,1Z", "filled": true, "size": 625, "color": "black", "opacity": 1, "strokeWidth": 0}
    },
    {
      "data": {"name": "scalebar"},
      "mark": {"type": "point", "shape": "M0,1L0.6,-1L-0.6,-1Z", "filled": true, "size": 625, "color": "black", "opacity": 1, "strokeWidth": 0},
      "encoding": {"y": {"field": "y2", "type": "quantitative", "scale": {"domain": [-0.05, 0.65], "nice": false, "zero": false}, "axis": null}}
    }
  ]
}
